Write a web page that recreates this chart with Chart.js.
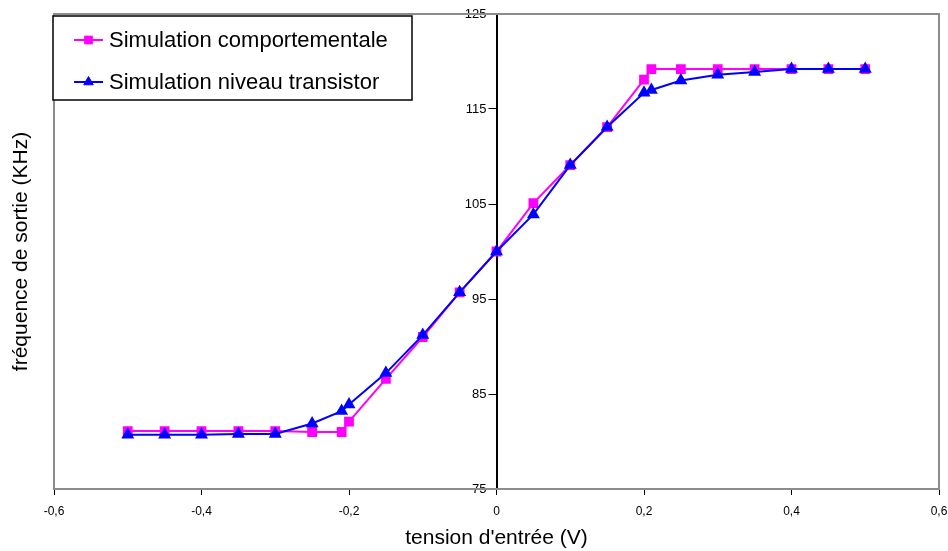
<!DOCTYPE html>
<html>
<head>
<meta charset="utf-8">
<script src="https://cdn.jsdelivr.net/npm/chart.js@4.4.1/dist/chart.umd.min.js"></script>
<style>
  html, body { margin: 0; padding: 0; background: #fff; }
  #wrap { width: 948px; height: 551px; }
</style>
</head>
<body>
<div id="wrap"><canvas id="freqChart" width="948" height="551"></canvas></div>
<script>
// tension d'entrée (V)
const tensions = [-0.5, -0.45, -0.4, -0.35, -0.3, -0.25, -0.21, -0.2, -0.15, -0.1, -0.05, 0,
  0.05, 0.1, 0.15, 0.2, 0.21, 0.25, 0.3, 0.35, 0.4, 0.45, 0.5];
// fréquence de sortie (KHz)
const freqComportementale = [81.1, 81.1, 81.1, 81.1, 81.1, 81.0, 81.0, 82.1, 86.6, 91.0, 95.7, 100,
  105.1, 109.1, 113.1, 118.1, 119.2, 119.2, 119.2, 119.2, 119.2, 119.2, 119.2];
const freqTransistor = [80.7, 80.7, 80.7, 80.8, 80.8, 81.9, 83.2, 83.9, 87.2, 91.2, 95.7, 100,
  103.9, 109.1, 113.1, 116.7, 117.0, 118.0, 118.6, 118.9, 119.2, 119.2, 119.2];

const xTicks = [-0.6, -0.4, -0.2, 0, 0.2, 0.4, 0.6];
const xTickLabels = ['-0,6', '-0,4', '-0,2', '0', '0,2', '0,4', '0,6'];
const yTicks = [75, 85, 95, 105, 115, 125];

const toPoints = (ys) => tensions.map((x, i) => ({ x: x, y: ys[i] }));

// move the y axis so it crosses the x axis at 0
const crossAxis = {
  id: 'crossAxis',
  afterLayout(chart) {
    const y = chart.scales.y;
    const x0 = chart.scales.x.getPixelForValue(0);
    y.left = x0 - 50;
    y.right = x0;
  }
};

// grey frame around the plot area
const framePlugin = {
  id: 'frame',
  beforeDatasetsDraw(chart) {
    const { ctx, chartArea: a } = chart;
    ctx.save();
    ctx.strokeStyle = '#8c8c8c';
    ctx.lineWidth = 2;
    ctx.strokeRect(a.left, a.top, a.right - a.left, a.bottom - a.top);
    ctx.restore();
  }
};

// boxed legend in the top-left corner
const boxLegend = {
  id: 'boxLegend',
  afterDraw(chart) {
    const ctx = chart.ctx;
    ctx.save();
    ctx.fillStyle = '#fff';
    ctx.fillRect(53, 16, 359, 84);
    ctx.strokeStyle = '#000';
    ctx.lineWidth = 1.5;
    ctx.strokeRect(53, 16, 359, 84);
    chart.data.datasets.forEach((ds, i) => {
      const y = 40 + i * 42;
      ctx.strokeStyle = ds.borderColor;
      ctx.lineWidth = 2;
      ctx.beginPath();
      ctx.moveTo(74, y);
      ctx.lineTo(103, y);
      ctx.stroke();
      ctx.fillStyle = ds.pointBackgroundColor;
      ctx.strokeStyle = ds.pointBorderColor;
      ctx.lineWidth = 1;
      Chart.helpers.drawPoint(ctx, {
        pointStyle: ds.pointStyle, radius: 5.5, borderWidth: 1, rotation: 0
      }, 88.5, y);
      ctx.fillStyle = '#000';
      ctx.font = '22px "Liberation Sans", Arial, sans-serif';
      ctx.textBaseline = 'middle';
      ctx.fillText(ds.label, 109, y + 1);
    });
    ctx.restore();
  }
};

new Chart(document.getElementById('freqChart'), {
  type: 'line',
  data: {
    datasets: [
      {
        label: 'Simulation comportementale',
        data: toPoints(freqComportementale),
        borderColor: '#ff00ff',
        backgroundColor: '#ff00ff',
        pointBackgroundColor: '#ff00ff',
        pointBorderColor: '#ff00ff',
        pointStyle: 'rect',
        pointRadius: 5.5,
        borderWidth: 2,
        order: 2
      },
      {
        label: 'Simulation niveau transistor',
        data: toPoints(freqTransistor),
        borderColor: '#0000ff',
        backgroundColor: '#0000ff',
        pointBackgroundColor: '#0000ff',
        pointBorderColor: '#0000ff',
        pointStyle: 'triangle',
        pointRadius: 5.5,
        borderWidth: 2,
        order: 1
      }
    ]
  },
  options: {
    responsive: false,
    animation: false,
    layout: { padding: { top: 14, right: 9, left: 0, bottom: 0 } },
    plugins: {
      legend: { display: false },
      tooltip: { enabled: false }
    },
    scales: {
      x: {
        type: 'linear',
        min: -0.6,
        max: 0.6,
        afterFit(scale) {
          scale.height = 62;
          scale.paddingLeft = 0;
          scale.paddingRight = 0;
        },
        afterBuildTicks(scale) { scale.ticks = xTicks.map(v => ({ value: v })); },
        border: { display: true, color: '#000', width: 2 },
        grid: { drawOnChartArea: false, drawTicks: true, tickLength: 6, color: '#000' },
        ticks: {
          color: '#000',
          padding: 9,
          maxRotation: 0,
          font: { family: '"Liberation Sans", Arial, sans-serif', size: 12 },
          callback(value) {
            const i = xTicks.findIndex(t => Math.abs(t - value) < 1e-9);
            return i >= 0 ? xTickLabels[i] : '';
          }
        },
        title: {
          display: true,
          text: "tension d'entrée (V)",
          color: '#000',
          padding: { top: 0, bottom: 0 },
          font: { family: '"Liberation Sans", Arial, sans-serif', size: 21 }
        }
      },
      yTitle: {
        type: 'linear',
        position: 'left',
        min: 75,
        max: 125,
        afterFit(scale) { scale.width = 54; },
        border: { display: false },
        grid: { display: false },
        ticks: { display: false },
        title: {
          display: true,
          text: 'fréquence de sortie (KHz)',
          color: '#000',
          padding: { top: 9, bottom: 0 },
          font: { family: '"Liberation Sans", Arial, sans-serif', size: 21 }
        }
      },
      y: {
        type: 'linear',
        position: 'left',
        min: 75,
        max: 125,
        afterFit(scale) { scale.width = 0; },
        afterBuildTicks(scale) { scale.ticks = yTicks.map(v => ({ value: v })); },
        border: { display: true, color: '#000', width: 2 },
        grid: { drawOnChartArea: false, drawTicks: true, tickLength: 8, color: '#000' },
        ticks: {
          color: '#000',
          padding: 2,
          font: { family: '"Liberation Sans", Arial, sans-serif', size: 13 }
        }
      }
    }
  },
  plugins: [crossAxis, framePlugin, boxLegend]
});
</script>
</body>
</html>
